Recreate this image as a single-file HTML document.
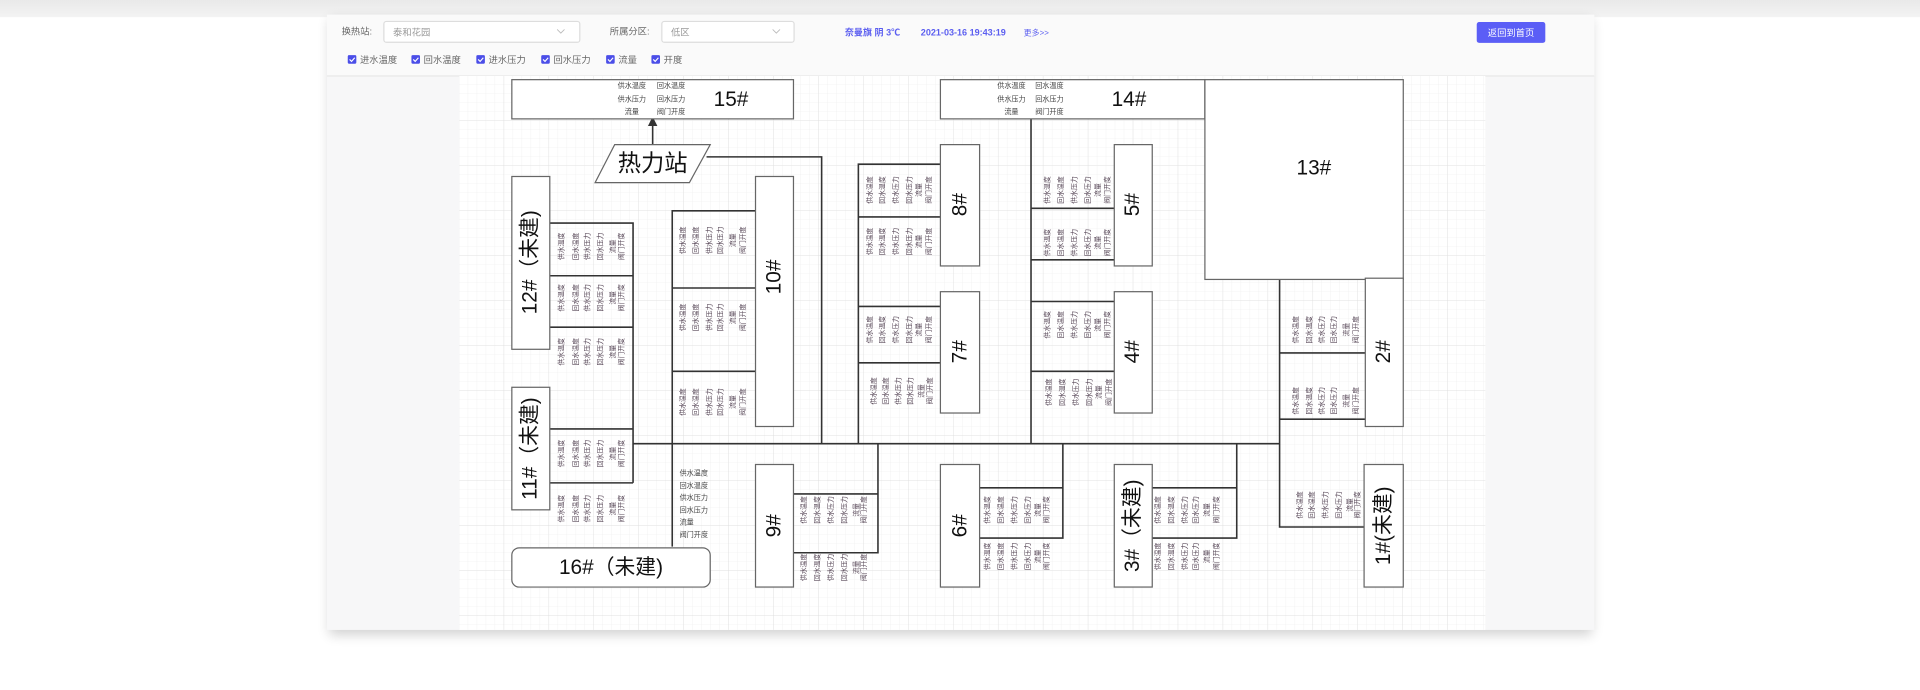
<!DOCTYPE html>
<html><head><meta charset="utf-8">
<style>
html,body{margin:0;padding:0;background:#fff;width:1920px;height:690px;overflow:hidden}
svg{display:block}
text{font-family:"Liberation Sans","Noto Sans CJK SC",sans-serif}
.c text{font-size:5.6px;fill:#5a4a5a;text-anchor:middle;dominant-baseline:central}
.t text{font-size:5.8px;fill:#444;text-anchor:middle}
.big{font-size:17px;fill:#111;text-anchor:middle;dominant-baseline:central}
.ln{stroke:#333;stroke-width:1.3;fill:none}
.bx{fill:#fff;stroke:#666;stroke-width:1}
.tb{font-size:7.6px;fill:#666}
.bl{font-size:7.4px;fill:#5b5ef0;font-weight:bold}
</style></head><body>
<svg width="1920" height="690" viewBox="0 0 1568 563" preserveAspectRatio="none" xmlns="http://www.w3.org/2000/svg">
<defs>
<linearGradient id="tg" x1="0" y1="0" x2="0" y2="1"><stop offset="0" stop-color="#e9e9e9"/><stop offset="1" stop-color="#f3f3f3"/></linearGradient>
<pattern id="gm" width="7.34" height="7.34" patternUnits="userSpaceOnUse" x="375" y="62"><path d="M7.34 0V7.34H0" fill="none" stroke="#ececec" stroke-width="0.5"/></pattern>
<pattern id="gM" width="36.7" height="36.7" patternUnits="userSpaceOnUse" x="375" y="62"><path d="M36.7 0V36.7H0" fill="none" stroke="#dedede" stroke-width="0.6"/></pattern>
<filter id="sh" x="-5%" y="-5%" width="110%" height="115%"><feGaussianBlur stdDeviation="5"/></filter>
<marker id="ar" markerWidth="6" markerHeight="6" refX="3" refY="3" orient="auto"><path d="M0,0 L6,3 L0,6 z" fill="#333"/></marker>
</defs>
<rect x="0" y="0" width="1568" height="563" fill="#fff"/>
<rect x="0" y="0" width="1568" height="14" fill="url(#tg)"/>
<rect x="269" y="16" width="1031" height="502" fill="#000" opacity="0.18" filter="url(#sh)"/>
<rect x="267" y="12" width="1035" height="502" fill="#f7f7f8"/>
<rect x="267" y="12" width="1035" height="50" fill="#fafafa"/>
<line x1="267" y1="62" x2="1302" y2="62" stroke="#e8e8e8"/>
<rect x="375" y="62" width="838" height="452" fill="#fff"/>
<rect x="375" y="62" width="838" height="452" fill="url(#gm)"/>
<rect x="375" y="62" width="838" height="452" fill="url(#gM)"/>

<text class="tb" x="279" y="28">换热站:</text>
<rect x="313.5" y="17.5" width="160" height="17" rx="2" fill="#fff" stroke="#ddd"/>
<text class="tb" x="321" y="29" style="fill:#999">泰和花园</text>
<path d="M455 24 l3 3 l3 -3" fill="none" stroke="#bbb" stroke-width="0.7"/>
<text class="tb" x="498" y="28">所属分区:</text>
<rect x="540.5" y="17.5" width="108" height="17" rx="2" fill="#fff" stroke="#ddd"/>
<text class="tb" x="548" y="29" style="fill:#999">低区</text>
<path d="M631 24 l3 3 l3 -3" fill="none" stroke="#bbb" stroke-width="0.7"/>
<text class="bl" x="690" y="29">奈曼旗  阴  3℃</text>
<text class="bl" x="752" y="29">2021-03-16 19:43:19</text>
<text class="bl" x="836" y="29" style="font-size:6.5px;font-weight:normal">更多&gt;&gt;</text>
<rect x="1206" y="18" width="56" height="17" rx="2" fill="#5b5ef6"/>
<text x="1234" y="29.5" style="font-size:7.6px;fill:#fff;text-anchor:middle">返回到首页</text>
<g>
<rect x="284" y="45" width="7" height="7" rx="1" fill="#4b4ee8"/><path d="M285.5 48.5 l1.6 1.6 l2.6 -3" stroke="#fff" stroke-width="0.9" fill="none"/><text class="tb" x="294" y="51.5">进水温度</text>
<rect x="336" y="45" width="7" height="7" rx="1" fill="#4b4ee8"/><path d="M337.5 48.5 l1.6 1.6 l2.6 -3" stroke="#fff" stroke-width="0.9" fill="none"/><text class="tb" x="346" y="51.5">回水温度</text>
<rect x="389" y="45" width="7" height="7" rx="1" fill="#4b4ee8"/><path d="M390.5 48.5 l1.6 1.6 l2.6 -3" stroke="#fff" stroke-width="0.9" fill="none"/><text class="tb" x="399" y="51.5">进水压力</text>
<rect x="442" y="45" width="7" height="7" rx="1" fill="#4b4ee8"/><path d="M443.5 48.5 l1.6 1.6 l2.6 -3" stroke="#fff" stroke-width="0.9" fill="none"/><text class="tb" x="452" y="51.5">回水压力</text>
<rect x="495" y="45" width="7" height="7" rx="1" fill="#4b4ee8"/><path d="M496.5 48.5 l1.6 1.6 l2.6 -3" stroke="#fff" stroke-width="0.9" fill="none"/><text class="tb" x="505" y="51.5">流量</text>
<rect x="532" y="45" width="7" height="7" rx="1" fill="#4b4ee8"/><path d="M533.5 48.5 l1.6 1.6 l2.6 -3" stroke="#fff" stroke-width="0.9" fill="none"/><text class="tb" x="542" y="51.5">开度</text>
</g>

<g class="ln">
<line x1="533" y1="118" x2="533" y2="99" marker-end="url(#ar)"/>
<polyline points="577,128 671,128 671,362"/>
<line x1="517" y1="362" x2="1045" y2="362"/>
<polyline points="449,182 517,182 517,394"/>
<line x1="449" y1="225" x2="517" y2="225"/><line x1="449" y1="267" x2="517" y2="267"/>
<line x1="449" y1="350" x2="517" y2="350"/><line x1="449" y1="394" x2="517" y2="394"/>
<polyline points="617,172 549,172 549,446"/>
<line x1="549" y1="235" x2="617" y2="235"/><line x1="549" y1="303" x2="617" y2="303"/>
<polyline points="717,362 717,451 648,451"/><line x1="648" y1="403" x2="717" y2="403"/>
<polyline points="768,134 701,134 701,362"/>
<line x1="701" y1="177" x2="768" y2="177"/><line x1="701" y1="250" x2="768" y2="250"/><line x1="701" y1="296" x2="768" y2="296"/>
<line x1="842" y1="97" x2="842" y2="362"/>
<line x1="842" y1="170" x2="910" y2="170"/><line x1="842" y1="212" x2="910" y2="212"/><line x1="842" y1="246" x2="910" y2="246"/><line x1="842" y1="303" x2="910" y2="303"/>
<polyline points="868,362 868,439 800,439"/><line x1="800" y1="398" x2="868" y2="398"/>
<polyline points="1010,362 1010,439 941,439"/><line x1="941" y1="398" x2="1010" y2="398"/>
<polyline points="1045,228 1045,430 1115,430"/>
<line x1="1045" y1="288" x2="1115" y2="288"/><line x1="1045" y1="342" x2="1115" y2="342"/>
</g>

<g class="bx">
<rect x="418" y="65" width="230" height="32"/>
<rect x="768" y="65" width="216" height="32"/>
<rect x="984" y="65" width="162" height="163"/>
<rect x="418" y="144" width="31" height="141"/>
<rect x="418" y="316" width="31" height="100"/>
<rect x="617" y="144" width="31" height="204"/>
<rect x="617" y="379" width="31" height="100"/>
<rect x="768" y="118" width="32" height="99"/>
<rect x="768" y="238" width="32" height="99"/>
<rect x="910" y="118" width="31" height="99"/>
<rect x="910" y="238" width="31" height="99"/>
<rect x="768" y="379" width="32" height="100"/>
<rect x="910" y="379" width="31" height="100"/>
<rect x="1115" y="227" width="31" height="121"/>
<rect x="1114" y="379" width="32" height="100"/>
<rect x="418" y="447" width="162" height="32" rx="6"/>
<polygon points="486,149 502,118 580,118 563,149"/>
</g>

<text class="big" x="597" y="81">15#</text>
<text class="big" x="922" y="81">14#</text>
<text class="big" x="1073" y="137">13#</text>
<text class="big" x="533" y="133" style="font-size:19px">热力站</text>
<text class="big" x="499" y="463">16#（未建)</text>
<text class="big" transform="translate(433 214) rotate(-90)">12#（未建)</text>
<text class="big" transform="translate(433 366) rotate(-90)">11#（未建)</text>
<text class="big" transform="translate(632 226) rotate(-90)">10#</text>
<text class="big" transform="translate(632 429) rotate(-90)">9#</text>
<text class="big" transform="translate(784 167) rotate(-90)">8#</text>
<text class="big" transform="translate(784 287) rotate(-90)">7#</text>
<text class="big" transform="translate(925 167) rotate(-90)">5#</text>
<text class="big" transform="translate(925 287) rotate(-90)">4#</text>
<text class="big" transform="translate(784 429) rotate(-90)">6#</text>
<text class="big" transform="translate(925 429) rotate(-90)">3#（未建)</text>
<text class="big" transform="translate(1130 287) rotate(-90)">2#</text>
<text class="big" transform="translate(1130 429) rotate(-90)">1#(未建)</text>

<g class="t">
<text x="516" y="72">供水温度</text><text x="548" y="72">回水温度</text>
<text x="516" y="83">供水压力</text><text x="548" y="83">回水压力</text>
<text x="516" y="93">流量</text><text x="548" y="93">阀门开度</text>
<text x="826" y="72">供水温度</text><text x="857" y="72">回水温度</text>
<text x="826" y="83">供水压力</text><text x="857" y="83">回水压力</text>
<text x="826" y="93">流量</text><text x="857" y="93">阀门开度</text>
</g>
<g class="t">
<text x="555" y="388" style="text-anchor:start">供水温度</text>
<text x="555" y="398" style="text-anchor:start">回水温度</text>
<text x="555" y="408" style="text-anchor:start">供水压力</text>
<text x="555" y="418" style="text-anchor:start">回水压力</text>
<text x="555" y="428" style="text-anchor:start">流量</text>
<text x="555" y="438" style="text-anchor:start">阀门开度</text>
</g>

<g class="c">
<g transform="translate(449 201)"><text transform="translate(10 0) rotate(-90)">供水温度</text><text transform="translate(22 0) rotate(-90)">回水温度</text><text transform="translate(31 0) rotate(-90)">供水压力</text><text transform="translate(42 0) rotate(-90)">回水压力</text><text transform="translate(52 0) rotate(-90)">流量</text><text transform="translate(59 0) rotate(-90)">阀门开度</text></g>
<g transform="translate(449 243)"><text transform="translate(10 0) rotate(-90)">供水温度</text><text transform="translate(22 0) rotate(-90)">回水温度</text><text transform="translate(31 0) rotate(-90)">供水压力</text><text transform="translate(42 0) rotate(-90)">回水压力</text><text transform="translate(52 0) rotate(-90)">流量</text><text transform="translate(59 0) rotate(-90)">阀门开度</text></g>
<g transform="translate(449 287)"><text transform="translate(10 0) rotate(-90)">供水温度</text><text transform="translate(22 0) rotate(-90)">回水温度</text><text transform="translate(31 0) rotate(-90)">供水压力</text><text transform="translate(42 0) rotate(-90)">回水压力</text><text transform="translate(52 0) rotate(-90)">流量</text><text transform="translate(59 0) rotate(-90)">阀门开度</text></g>
<g transform="translate(449 370)"><text transform="translate(10 0) rotate(-90)">供水温度</text><text transform="translate(22 0) rotate(-90)">回水温度</text><text transform="translate(31 0) rotate(-90)">供水压力</text><text transform="translate(42 0) rotate(-90)">回水压力</text><text transform="translate(52 0) rotate(-90)">流量</text><text transform="translate(59 0) rotate(-90)">阀门开度</text></g>
<g transform="translate(449 415)"><text transform="translate(10 0) rotate(-90)">供水温度</text><text transform="translate(22 0) rotate(-90)">回水温度</text><text transform="translate(31 0) rotate(-90)">供水压力</text><text transform="translate(42 0) rotate(-90)">回水压力</text><text transform="translate(52 0) rotate(-90)">流量</text><text transform="translate(59 0) rotate(-90)">阀门开度</text></g>

<g transform="translate(549 196)"><text transform="translate(9 0) rotate(-90)">供水温度</text><text transform="translate(20 0) rotate(-90)">回水温度</text><text transform="translate(31 0) rotate(-90)">供水压力</text><text transform="translate(40 0) rotate(-90)">回水压力</text><text transform="translate(50 0) rotate(-90)">流量</text><text transform="translate(58 0) rotate(-90)">阀门开度</text></g>
<g transform="translate(549 259)"><text transform="translate(9 0) rotate(-90)">供水温度</text><text transform="translate(20 0) rotate(-90)">回水温度</text><text transform="translate(31 0) rotate(-90)">供水压力</text><text transform="translate(40 0) rotate(-90)">回水压力</text><text transform="translate(50 0) rotate(-90)">流量</text><text transform="translate(58 0) rotate(-90)">阀门开度</text></g>
<g transform="translate(549 328)"><text transform="translate(9 0) rotate(-90)">供水温度</text><text transform="translate(20 0) rotate(-90)">回水温度</text><text transform="translate(31 0) rotate(-90)">供水压力</text><text transform="translate(40 0) rotate(-90)">回水压力</text><text transform="translate(50 0) rotate(-90)">流量</text><text transform="translate(58 0) rotate(-90)">阀门开度</text></g>

<g transform="translate(648 416)"><text transform="translate(9 0) rotate(-90)">供水温度</text><text transform="translate(20 0) rotate(-90)">回水温度</text><text transform="translate(31 0) rotate(-90)">供水压力</text><text transform="translate(42 0) rotate(-90)">回水压力</text><text transform="translate(52 0) rotate(-90)">流量</text><text transform="translate(58 0) rotate(-90)">阀门开度</text></g>
<g transform="translate(648 463)"><text transform="translate(9 0) rotate(-90)">供水温度</text><text transform="translate(20 0) rotate(-90)">回水温度</text><text transform="translate(31 0) rotate(-90)">供水压力</text><text transform="translate(42 0) rotate(-90)">回水压力</text><text transform="translate(52 0) rotate(-90)">流量</text><text transform="translate(58 0) rotate(-90)">阀门开度</text></g>

<g transform="translate(701 155)"><text transform="translate(10 0) rotate(-90)">供水温度</text><text transform="translate(20 0) rotate(-90)">回水温度</text><text transform="translate(31 0) rotate(-90)">供水压力</text><text transform="translate(42 0) rotate(-90)">回水压力</text><text transform="translate(50 0) rotate(-90)">流量</text><text transform="translate(58 0) rotate(-90)">阀门开度</text></g>
<g transform="translate(701 197)"><text transform="translate(10 0) rotate(-90)">供水温度</text><text transform="translate(20 0) rotate(-90)">回水温度</text><text transform="translate(31 0) rotate(-90)">供水压力</text><text transform="translate(42 0) rotate(-90)">回水压力</text><text transform="translate(50 0) rotate(-90)">流量</text><text transform="translate(58 0) rotate(-90)">阀门开度</text></g>
<g transform="translate(701 269)"><text transform="translate(10 0) rotate(-90)">供水温度</text><text transform="translate(20 0) rotate(-90)">回水温度</text><text transform="translate(31 0) rotate(-90)">供水压力</text><text transform="translate(42 0) rotate(-90)">回水压力</text><text transform="translate(50 0) rotate(-90)">流量</text><text transform="translate(58 0) rotate(-90)">阀门开度</text></g>
<g transform="translate(701 319)"><text transform="translate(13 0) rotate(-90)">供水温度</text><text transform="translate(23 0) rotate(-90)">回水温度</text><text transform="translate(33 0) rotate(-90)">供水压力</text><text transform="translate(43 0) rotate(-90)">回水压力</text><text transform="translate(52 0) rotate(-90)">流量</text><text transform="translate(59 0) rotate(-90)">阀门开度</text></g>

<g transform="translate(842 155)"><text transform="translate(14 0) rotate(-90)">供水温度</text><text transform="translate(25 0) rotate(-90)">回水温度</text><text transform="translate(36 0) rotate(-90)">供水压力</text><text transform="translate(47 0) rotate(-90)">回水压力</text><text transform="translate(55 0) rotate(-90)">流量</text><text transform="translate(63 0) rotate(-90)">阀门开度</text></g>
<g transform="translate(842 198)"><text transform="translate(14 0) rotate(-90)">供水温度</text><text transform="translate(25 0) rotate(-90)">回水温度</text><text transform="translate(36 0) rotate(-90)">供水压力</text><text transform="translate(47 0) rotate(-90)">回水压力</text><text transform="translate(55 0) rotate(-90)">流量</text><text transform="translate(63 0) rotate(-90)">阀门开度</text></g>
<g transform="translate(842 265)"><text transform="translate(14 0) rotate(-90)">供水温度</text><text transform="translate(25 0) rotate(-90)">回水温度</text><text transform="translate(36 0) rotate(-90)">供水压力</text><text transform="translate(47 0) rotate(-90)">回水压力</text><text transform="translate(55 0) rotate(-90)">流量</text><text transform="translate(63 0) rotate(-90)">阀门开度</text></g>
<g transform="translate(842 320)"><text transform="translate(15 0) rotate(-90)">供水温度</text><text transform="translate(26 0) rotate(-90)">回水温度</text><text transform="translate(37 0) rotate(-90)">供水压力</text><text transform="translate(48 0) rotate(-90)">回水压力</text><text transform="translate(56 0) rotate(-90)">流量</text><text transform="translate(64 0) rotate(-90)">阀门开度</text></g>

<g transform="translate(800 416)"><text transform="translate(7 0) rotate(-90)">供水温度</text><text transform="translate(18 0) rotate(-90)">回水温度</text><text transform="translate(29 0) rotate(-90)">供水压力</text><text transform="translate(40 0) rotate(-90)">回水压力</text><text transform="translate(48 0) rotate(-90)">流量</text><text transform="translate(55 0) rotate(-90)">阀门开度</text></g>
<g transform="translate(800 454)"><text transform="translate(7 0) rotate(-90)">供水温度</text><text transform="translate(18 0) rotate(-90)">回水温度</text><text transform="translate(29 0) rotate(-90)">供水压力</text><text transform="translate(40 0) rotate(-90)">回水压力</text><text transform="translate(48 0) rotate(-90)">流量</text><text transform="translate(55 0) rotate(-90)">阀门开度</text></g>

<g transform="translate(941 416)"><text transform="translate(5 0) rotate(-90)">供水温度</text><text transform="translate(16 0) rotate(-90)">回水温度</text><text transform="translate(27 0) rotate(-90)">供水压力</text><text transform="translate(36 0) rotate(-90)">回水压力</text><text transform="translate(45 0) rotate(-90)">流量</text><text transform="translate(53 0) rotate(-90)">阀门开度</text></g>
<g transform="translate(941 454)"><text transform="translate(5 0) rotate(-90)">供水温度</text><text transform="translate(16 0) rotate(-90)">回水温度</text><text transform="translate(27 0) rotate(-90)">供水压力</text><text transform="translate(36 0) rotate(-90)">回水压力</text><text transform="translate(45 0) rotate(-90)">流量</text><text transform="translate(53 0) rotate(-90)">阀门开度</text></g>

<g transform="translate(1046 269)"><text transform="translate(13 0) rotate(-90)">供水温度</text><text transform="translate(24 0) rotate(-90)">回水温度</text><text transform="translate(34 0) rotate(-90)">供水压力</text><text transform="translate(44 0) rotate(-90)">回水压力</text><text transform="translate(54 0) rotate(-90)">流量</text><text transform="translate(62 0) rotate(-90)">阀门开度</text></g>
<g transform="translate(1046 327)"><text transform="translate(13 0) rotate(-90)">供水温度</text><text transform="translate(24 0) rotate(-90)">回水温度</text><text transform="translate(34 0) rotate(-90)">供水压力</text><text transform="translate(44 0) rotate(-90)">回水压力</text><text transform="translate(54 0) rotate(-90)">流量</text><text transform="translate(62 0) rotate(-90)">阀门开度</text></g>
<g transform="translate(1046 412)"><text transform="translate(16 0) rotate(-90)">供水温度</text><text transform="translate(26 0) rotate(-90)">回水温度</text><text transform="translate(37 0) rotate(-90)">供水压力</text><text transform="translate(48 0) rotate(-90)">回水压力</text><text transform="translate(57 0) rotate(-90)">流量</text><text transform="translate(63 0) rotate(-90)">阀门开度</text></g>
</g>
</svg>
</body></html>
